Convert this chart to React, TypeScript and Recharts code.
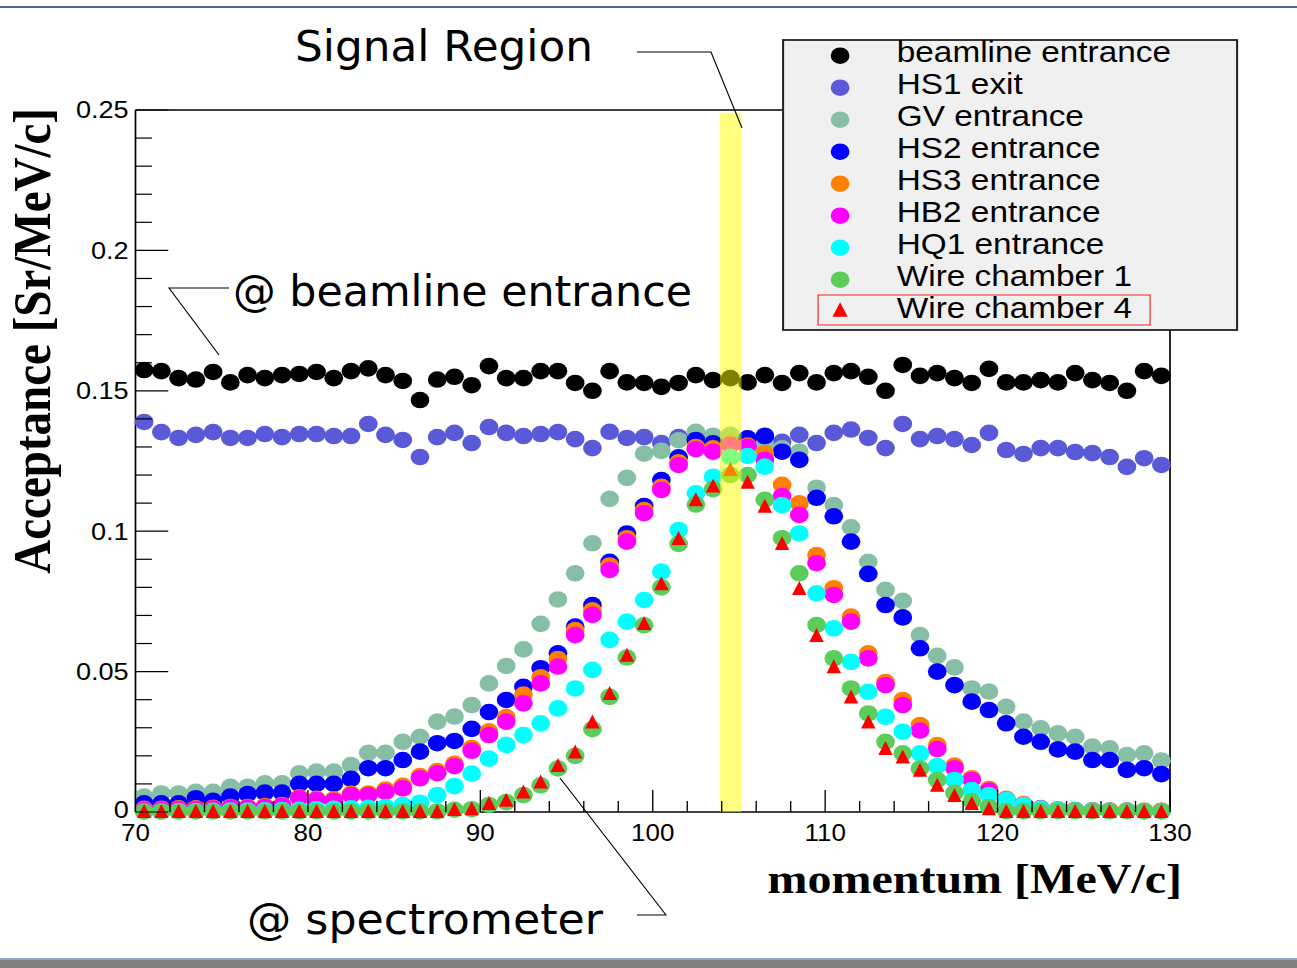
import React from "react";
import { ScatterChart, Scatter, XAxis, YAxis, ReferenceArea } from "recharts";

// ── The source picture is stretched horizontally, so everything is drawn
// ── in a narrower box and widened with scaleX.
const SX = 1.13;
const W = 1148;
const H = 968;

// ── Data (bin centres, MeV/c) ─────────────────────────────────
const MOMENTUM = [
  70.5, 71.5, 72.5, 73.5, 74.5, 75.5, 76.5, 77.5, 78.5, 79.5,
  80.5, 81.5, 82.5, 83.5, 84.5, 85.5, 86.5, 87.5, 88.5, 89.5,
  90.5, 91.5, 92.5, 93.5, 94.5, 95.5, 96.5, 97.5, 98.5, 99.5,
  100.5, 101.5, 102.5, 103.5, 104.5, 105.5, 106.5, 107.5, 108.5, 109.5,
  110.5, 111.5, 112.5, 113.5, 114.5, 115.5, 116.5, 117.5, 118.5, 119.5,
  120.5, 121.5, 122.5, 123.5, 124.5, 125.5, 126.5, 127.5, 128.5, 129.5,
];

const BEAMLINE = [
  0.1574, 0.157, 0.1545, 0.154, 0.1567, 0.153, 0.1556, 0.1545, 0.1556, 0.156,
  0.1567, 0.1545, 0.157, 0.158, 0.1556, 0.1535, 0.1467, 0.154, 0.155, 0.152,
  0.1588, 0.1545, 0.1545, 0.157, 0.157, 0.1528, 0.15, 0.157, 0.153, 0.1528,
  0.1514, 0.1528, 0.1556, 0.1538, 0.1545, 0.153, 0.1556, 0.1528, 0.1563, 0.153,
  0.1563, 0.157, 0.155, 0.15, 0.1592, 0.1553, 0.1563, 0.1545, 0.1528, 0.1578,
  0.153, 0.153, 0.1538, 0.153, 0.1563, 0.1538, 0.1528, 0.15, 0.157, 0.1553,
];

const HS1_EXIT = [
  0.1389, 0.1353, 0.1332, 0.1343, 0.1353, 0.1332, 0.1332, 0.1346, 0.1335, 0.1346,
  0.1346, 0.1339, 0.1339, 0.1382, 0.1343, 0.1325, 0.1264, 0.1335, 0.135, 0.1314,
  0.1371, 0.135, 0.1339, 0.1346, 0.1353, 0.1328, 0.1296, 0.1354, 0.1332, 0.1335,
  0.1314, 0.1335, 0.134, 0.132, 0.134, 0.133, 0.134, 0.1318, 0.1343, 0.1314,
  0.135, 0.1362, 0.1332, 0.1296, 0.1382, 0.1328, 0.1339, 0.1328, 0.1307, 0.135,
  0.1289, 0.1275, 0.1296, 0.1296, 0.1282, 0.1278, 0.1264, 0.1229, 0.126, 0.1236,
];

const GV_ENTRANCE = [
  0.0055, 0.0066, 0.0066, 0.0072, 0.0072, 0.009, 0.009, 0.0102, 0.0102, 0.0138,
  0.0144, 0.0144, 0.0167, 0.0211, 0.0211, 0.025, 0.0268, 0.0322, 0.034, 0.0381,
  0.0458, 0.052, 0.0579, 0.067, 0.0757, 0.085, 0.0957, 0.1115, 0.119, 0.1276,
  0.1286, 0.1324, 0.1354, 0.134, 0.1343, 0.1325, 0.131, 0.1295, 0.1283, 0.1155,
  0.1093, 0.1014, 0.0891, 0.0791, 0.0752, 0.063, 0.0556, 0.0515, 0.044, 0.0429,
  0.0375, 0.0322, 0.0298, 0.028, 0.0268, 0.0233, 0.0227, 0.0203, 0.0209, 0.0183,
];

const HS2_ENTRANCE = [
  0.0031, 0.0031, 0.0031, 0.0049, 0.004, 0.0055, 0.0064, 0.0069, 0.0069, 0.01,
  0.01, 0.01, 0.0118, 0.0156, 0.0156, 0.0185, 0.0215, 0.0245, 0.0253, 0.0296,
  0.0356, 0.0399, 0.0446, 0.0512, 0.0565, 0.066, 0.0737, 0.0891, 0.0992, 0.109,
  0.1182, 0.1263, 0.1325, 0.1313, 0.131, 0.1331, 0.1339, 0.1283, 0.1254, 0.1119,
  0.1053, 0.0963, 0.0848, 0.0737, 0.0693, 0.0583, 0.05, 0.0452, 0.0393, 0.0363,
  0.0316, 0.0268, 0.025, 0.0223, 0.0215, 0.0185, 0.0185, 0.015, 0.0156, 0.0135,
];

const HS3_ENTRANCE = [
  0.0011, 0.0011, 0.0013, 0.0013, 0.0015, 0.0018, 0.0018, 0.0021, 0.0025, 0.0052,
  0.0047, 0.0045, 0.0065, 0.0066, 0.008, 0.0093, 0.0128, 0.0146, 0.0172, 0.0228,
  0.0287, 0.0338, 0.0418, 0.048, 0.0545, 0.0648, 0.0718, 0.0878, 0.0975, 0.1075,
  0.1158, 0.1245, 0.13, 0.1295, 0.131, 0.1305, 0.1277, 0.1165, 0.1099, 0.0915,
  0.0797, 0.0696, 0.0565, 0.0463, 0.0399, 0.031, 0.0238, 0.0165, 0.012, 0.0082,
  0.0047, 0.0028, 0.0014, 0.001, 0.0008, 0.0006, 0.0005, 0.0005, 0.0004, 0.0004,
];

const HB2_ENTRANCE = [
  0.0008, 0.0008, 0.001, 0.001, 0.0012, 0.0015, 0.0015, 0.0018, 0.0022, 0.0049,
  0.0043, 0.004, 0.006, 0.006, 0.0072, 0.0084, 0.012, 0.0138, 0.0163, 0.0218,
  0.0274, 0.0322, 0.0387, 0.0458, 0.0518, 0.063, 0.0702, 0.0862, 0.0963, 0.1064,
  0.1147, 0.1236, 0.1292, 0.1283, 0.1307, 0.1301, 0.1254, 0.1125, 0.1058, 0.0886,
  0.0773, 0.0678, 0.0547, 0.0452, 0.0381, 0.029, 0.0224, 0.0156, 0.0114, 0.0076,
  0.0043, 0.0025, 0.0012, 0.0008, 0.0006, 0.0005, 0.0004, 0.0004, 0.0003, 0.0003,
];

const HQ1_ENTRANCE = [
  0.0002, 0.0002, 0.0003, 0.0003, 0.0004, 0.0005, 0.0005, 0.0006, 0.0007, 0.0008,
  0.001, 0.0011, 0.0013, 0.0015, 0.0018, 0.0025, 0.0033, 0.006, 0.0092, 0.0137,
  0.019, 0.0239, 0.0274, 0.0316, 0.0369, 0.044, 0.0506, 0.0613, 0.0678, 0.0755,
  0.0856, 0.1004, 0.1135, 0.1194, 0.1265, 0.1268, 0.123, 0.1093, 0.0992, 0.0779,
  0.0654, 0.0535, 0.0428, 0.0339, 0.0286, 0.0209, 0.0164, 0.0114, 0.0078, 0.006,
  0.0043, 0.0025, 0.0012, 0.0008, 0.0006, 0.0005, 0.0004, 0.0004, 0.0003, 0.0003,
];

const WIRE_CHAMBER_1 = [
  0.0002, 0.0002, 0.0002, 0.0002, 0.0002, 0.0002, 0.0002, 0.0002, 0.0002, 0.0002,
  0.0002, 0.0002, 0.0002, 0.0002, 0.0002, 0.0002, 0.0002, 0.0002, 0.0008, 0.001,
  0.0025, 0.0035, 0.006, 0.0095, 0.0155, 0.02, 0.0295, 0.041, 0.055, 0.0665,
  0.08, 0.0955, 0.1095, 0.115, 0.12, 0.12, 0.1112, 0.0975, 0.085, 0.0666,
  0.0547, 0.044, 0.0351, 0.025, 0.0209, 0.0155, 0.0114, 0.0068, 0.0038, 0.0018,
  0.0003, 0.0003, 0.0003, 0.0003, 0.0003, 0.0003, 0.0003, 0.0003, 0.0003, 0.0003,
];

const WIRE_CHAMBER_4 = [
  0.0003, 0.0003, 0.0003, 0.0003, 0.0003, 0.0003, 0.0003, 0.0003, 0.0003, 0.0003,
  0.0003, 0.0003, 0.0003, 0.0003, 0.0003, 0.0003, 0.0003, 0.0003, 0.001, 0.0013,
  0.0031, 0.0043, 0.0072, 0.0108, 0.0167, 0.0215, 0.0322, 0.0423, 0.0559, 0.0672,
  0.0814, 0.0975, 0.1113, 0.1162, 0.1221, 0.1175, 0.109, 0.0957, 0.0797, 0.063,
  0.0518, 0.0411, 0.0322, 0.0227, 0.0197, 0.015, 0.0096, 0.006, 0.0031, 0.0013,
  0.0003, 0.0003, 0.0003, 0.0003, 0.0003, 0.0003, 0.0003, 0.0003, 0.0003, 0.0003,
];

// signal region band, MeV/c
const SIGNAL_REGION = [103.9, 105.15];

const X_TICKS = [
  70, 72, 74, 76, 78, 80, 82, 84, 86, 88, 90, 92, 94, 96, 98, 100,
  102, 104, 106, 108, 110, 112, 114, 116, 118, 120, 122, 124, 126, 128, 130,
];
const X_MAJOR = [70, 80, 90, 100, 110, 120, 130];
const Y_TICKS = [
  0, 0.01, 0.02, 0.03, 0.04, 0.05, 0.06, 0.07, 0.08, 0.09, 0.1, 0.11, 0.12,
  0.13, 0.14, 0.15, 0.16, 0.17, 0.18, 0.19, 0.2, 0.21, 0.22, 0.23, 0.24, 0.25,
];
const Y_MAJOR = [0, 0.05, 0.1, 0.15, 0.2, 0.25];

const SERIES = [
  { name: "beamline entrance", values: BEAMLINE, color: "#000000", tri: false },
  { name: "HS1 exit", values: HS1_EXIT, color: "#5a5ad8", tri: false },
  { name: "GV entrance", values: GV_ENTRANCE, color: "#86bea6", tri: false },
  { name: "HS2 entrance", values: HS2_ENTRANCE, color: "#0000ff", tri: false },
  { name: "HS3 entrance", values: HS3_ENTRANCE, color: "#ff7f00", tri: false },
  { name: "HB2 entrance", values: HB2_ENTRANCE, color: "#ff00ff", tri: false },
  { name: "HQ1 entrance", values: HQ1_ENTRANCE, color: "#00ffff", tri: false },
  { name: "Wire chamber 1", values: WIRE_CHAMBER_1, color: "#5acd5a", tri: false },
  { name: "Wire chamber 4", values: WIRE_CHAMBER_4, color: "#ff0000", tri: true },
];

const SANS = "'Liberation Sans', Arial, Helvetica, sans-serif";
const SERIF = "'Liberation Serif', 'Times New Roman', serif";
const NOTE = "'DejaVu Sans', sans-serif";

// ── Markers ──────────────────────────────────────────────────
const DOT_R = 8.3;

function trianglePoints(cx: number, cy: number, s = 1) {
  return `${cx - 6.4 * s},${cy + 6.8 * s} ${cx + 6.4 * s},${cy + 6.8 * s} ${cx},${cy - 7.2 * s}`;
}

function makeShape(color: string, tri: boolean) {
  // eslint-disable-next-line @typescript-eslint/no-explicit-any
  return function Marker(props: any) {
    const { cx, cy } = props as { cx: number; cy: number };
    if (tri) return <polygon points={trianglePoints(cx, cy)} fill={color} />;
    return <circle cx={cx} cy={cy} r={DOT_R} fill={color} />;
  };
}

// ── Ticks (ROOT style: pointing inward) ──────────────────────
// eslint-disable-next-line @typescript-eslint/no-explicit-any
function YTick(props: any) {
  const { x, y, payload } = props;
  const v = payload.value as number;
  const major = Y_MAJOR.includes(v);
  return (
    <g>
      <line x1={x} y1={y} x2={x + (major ? 29 : 14.5)} y2={y} stroke="#000" strokeWidth={1.2} />
      {major && (
        <text x={x - 6} y={y + (v === 0 ? 6 : 8.5)} textAnchor="end" fontSize={24} fontFamily={SANS} fill="#000">
          {String(v)}
        </text>
      )}
    </g>
  );
}

// eslint-disable-next-line @typescript-eslint/no-explicit-any
function XTick(props: any) {
  const { x, y, payload } = props;
  const v = payload.value as number;
  const major = X_MAJOR.includes(v);
  return (
    <g>
      <line x1={x} y1={y} x2={x} y2={y - (major ? 22 : 11)} stroke="#000" strokeWidth={1.2} />
      {major && (
        <text x={x} y={y + 29} textAnchor="middle" fontSize={23} fontFamily={SANS} fill="#000">
          {String(v)}
        </text>
      )}
    </g>
  );
}

// ── Legend box ───────────────────────────────────────────────
function LegendBox() {
  const left = 783 / SX;
  const w = (1237 - 783) / SX;
  const h = 290;
  return (
    <svg
      width={w + 4}
      height={h + 4}
      style={{ position: "absolute", left: left - 2, top: 38, overflow: "visible" }}
    >
      <g transform="translate(2,2)">
        <rect x={0} y={0} width={w} height={h} fill="#f0f0f0" stroke="#222" strokeWidth={1.8} />
        {SERIES.map((s, k) => {
          const base = 21.7 + 32 * k;
          const mx = (840 - 783) / SX;
          return (
            <g key={s.name}>
              {s.tri ? (
                <polygon points={trianglePoints(mx, base - 8, 1.05)} fill={s.color} />
              ) : (
                <circle cx={mx} cy={base - 6} r={DOT_R} fill={s.color} />
              )}
              <text x={(896.7 - 783) / SX} y={base} fontSize={29.5} fontFamily={SANS} fill="#000">
                {s.name}
              </text>
            </g>
          );
        })}
        <rect
          x={(818 - 783) / SX}
          y={255}
          width={(1150 - 818) / SX}
          height={30}
          fill="none"
          stroke="#f03535"
          strokeWidth={1.1}
        />
      </g>
    </svg>
  );
}

// ── Titles and slide annotations ─────────────────────────────
function Note({ x0, x1, y, children }: { x0: number; x1: number; y: number; children: string }) {
  return (
    <text
      x={x0 / SX}
      y={y}
      fontSize={42}
      fontFamily={NOTE}
      fill="#000"
      textLength={(x1 - x0) / SX}
      lengthAdjust="spacingAndGlyphs"
    >
      {children}
    </text>
  );
}

function Overlay() {
  const p = (pts: number[][]) => pts.map(([x, y]) => `${x / SX},${y}`).join(" ");
  return (
    <svg width={W} height={H} style={{ position: "absolute", left: 0, top: 0, pointerEvents: "none" }}>
      <text
        transform="translate(44,108) rotate(-90)"
        textAnchor="end"
        fontSize={47}
        fontWeight="bold"
        fontFamily={SERIF}
        fill="#000"
      >
        Acceptance [Sr/MeV/c]
      </text>
      <text x={1182 / SX} y={893} textAnchor="end" fontSize={42.5} fontWeight="bold" fontFamily={SERIF} fill="#000">
        momentum [MeV/c]
      </text>

      <Note x0={295} x1={593} y={61}>Signal Region</Note>
      <polyline points={p([[637, 52], [711, 52], [742, 128]])} fill="none" stroke="#000" strokeWidth={1} />

      <Note x0={233} x1={692} y={306}>@ beamline entrance</Note>
      <polyline points={p([[229, 288], [169, 288], [219, 355]])} fill="none" stroke="#000" strokeWidth={1} />

      <Note x0={247} x1={603} y={934}>@ spectrometer</Note>
      <polyline points={p([[560, 778], [666, 915], [637, 915]])} fill="none" stroke="#000" strokeWidth={1} />
    </svg>
  );
}

// ── Main ─────────────────────────────────────────────────────
export default function App() {
  const plotLeft = 135.5 / SX;
  const plotRight = 1170 / SX;
  return (
    <div
      style={{
        position: "absolute",
        left: 0,
        top: 0,
        width: 1297,
        height: 968,
        background: "#fff",
        overflow: "hidden",
      }}
    >
      <div style={{ position: "absolute", left: 0, top: 6, width: 1297, height: 1.5, background: "#4b6a98" }} />

      <div
        style={{
          position: "absolute",
          left: 0,
          top: 0,
          width: W,
          height: H,
          transform: `scaleX(${SX})`,
          transformOrigin: "0 0",
        }}
      >
        <ScatterChart
          width={W}
          height={H}
          margin={{ top: 109, bottom: 155, left: plotLeft - 1, right: W - plotRight - 1 }}
        >
          <XAxis
            type="number"
            dataKey="x"
            domain={[70, 130]}
            ticks={X_TICKS}
            interval={0}
            height={1}
            tickSize={0}
            tickMargin={0}
            tickLine={false}
            tick={XTick}
            axisLine={{ stroke: "#000", strokeWidth: 1.5 }}
          />
          <XAxis
            xAxisId="top"
            orientation="top"
            type="number"
            domain={[70, 130]}
            height={1}
            tick={false}
            tickLine={false}
            axisLine={{ stroke: "#000", strokeWidth: 1.5 }}
          />
          <YAxis
            type="number"
            dataKey="y"
            domain={[0, 0.25]}
            ticks={Y_TICKS}
            interval={0}
            width={1}
            tickSize={0}
            tickMargin={0}
            tickLine={false}
            tick={YTick}
            axisLine={{ stroke: "#000", strokeWidth: 1.5 }}
          />
          <YAxis
            yAxisId="right"
            orientation="right"
            type="number"
            domain={[0, 0.25]}
            width={1}
            tick={false}
            tickLine={false}
            axisLine={{ stroke: "#000", strokeWidth: 1.5 }}
          />

          {SERIES.map((s) => (
            <Scatter
              key={s.name}
              name={s.name}
              data={MOMENTUM.map((x, i) => ({ x, y: s.values[i] }))}
              fill={s.color}
              shape={makeShape(s.color, s.tri)}
              isAnimationActive={false}
            />
          ))}

          <ReferenceArea
            x1={SIGNAL_REGION[0]}
            x2={SIGNAL_REGION[1]}
            y1={0}
            y2={0.249}
            fill="#ffff00"
            fillOpacity={0.5}
            stroke="none"
            ifOverflow="visible"
            zIndex={700}
          />
        </ScatterChart>

        <Overlay />
        <LegendBox />
      </div>

      <div style={{ position: "absolute", left: 0, top: 958, width: 1297, height: 2, background: "#8ea6cc" }} />
      <div style={{ position: "absolute", left: 0, top: 960, width: 1297, height: 8, background: "#808080" }} />
    </div>
  );
}
